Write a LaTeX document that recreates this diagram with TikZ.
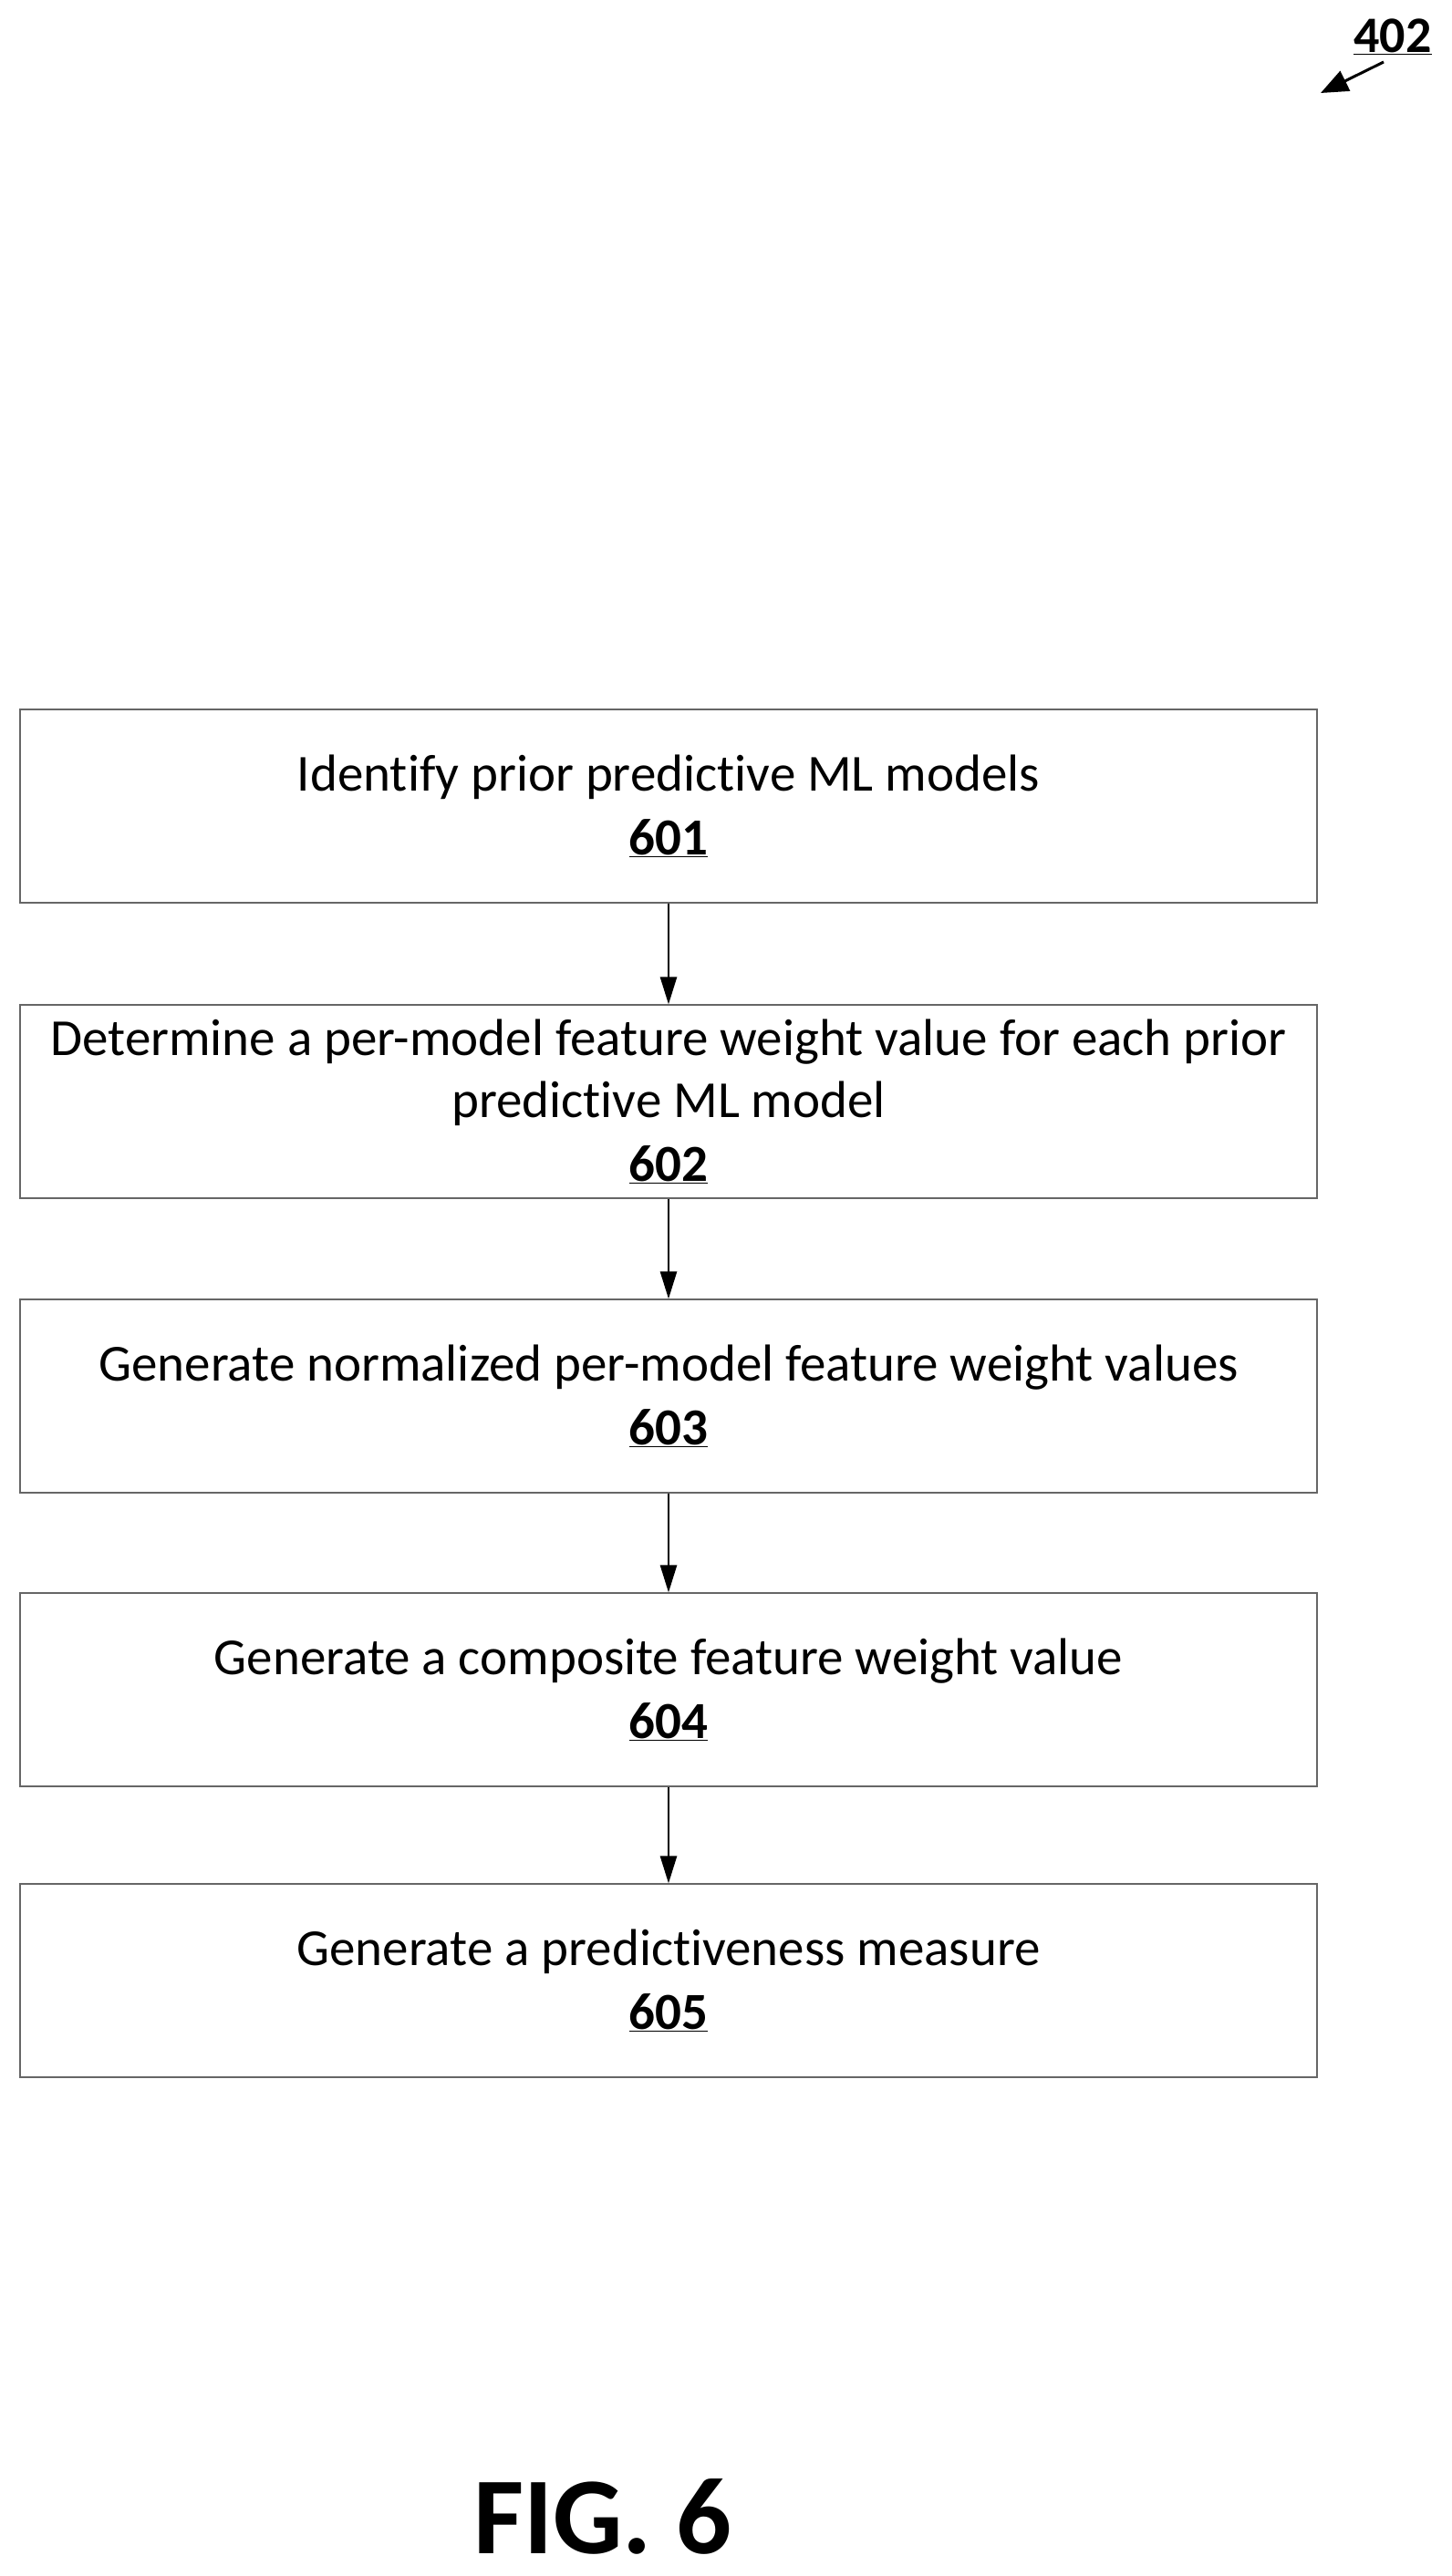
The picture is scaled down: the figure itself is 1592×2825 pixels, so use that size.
\documentclass[tikz,border=0pt]{standalone}
\usepackage{fontspec}
\setmainfont[Ligatures=NoCommon]{Carlito}
\usetikzlibrary{arrows.meta}
\begin{document}
\begin{tikzpicture}[x=1pt,y=-1pt,
  stepbox/.style={draw=black!60,line width=1.2pt,minimum width=1422pt,minimum height=212pt,inner sep=0pt,align=center,font=\fontsize{57}{68}\selectfont},
  conn/.style={line width=2.5pt,-{Triangle[length=30pt,width=18pt]}}]
\useasboundingbox (0,0) rectangle (1592,2825);
\node[stepbox] (a) at (733,884) {Identify prior predictive ML models\\[2pt]\textbf{\underline{601}}};
\node[stepbox] (b) at (733,1208) {Determine a per-model feature weight value for each prior\\predictive ML model\\[2pt]\textbf{\underline{602}}};
\node[stepbox] (c) at (733,1531) {Generate normalized per-model feature weight values\\[2pt]\textbf{\underline{603}}};
\node[stepbox] (d) at (733,1853) {Generate a composite feature weight value\\[2pt]\textbf{\underline{604}}};
\node[stepbox] (e) at (733,2172) {Generate a predictiveness measure\\[2pt]\textbf{\underline{605}}};
\draw[conn] (a) -- (b);
\draw[conn] (b) -- (c);
\draw[conn] (c) -- (d);
\draw[conn] (d) -- (e);
\node[font=\fontsize{120}{120}\selectfont\bfseries] (fig) at (661,2760) {FIG. 6};
\node[font=\fontsize{56}{56}\selectfont\bfseries,inner sep=2pt] (ref) at (1527,40) {\underline{402}};
\coordinate (tip) at (1448,102);
\draw[line width=3pt,-{Triangle[length=30pt,width=24pt]}] (1517,68) -- (tip);
\end{tikzpicture}
\end{document}
